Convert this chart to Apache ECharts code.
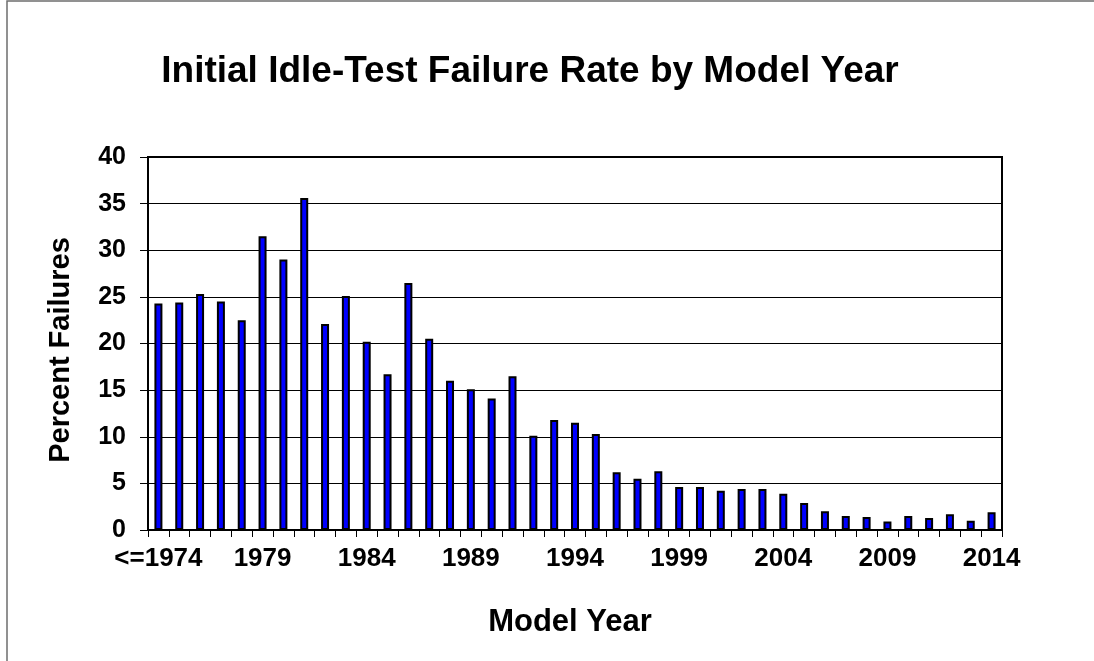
<!DOCTYPE html>
<html>
<head>
<meta charset="utf-8">
<title>Initial Idle-Test Failure Rate by Model Year</title>
<script src="https://cdn.jsdelivr.net/npm/echarts@6/dist/echarts.min.js"></script>
<style>
  html, body { margin: 0; padding: 0; background: #fff; }
  #chart { width: 1094px; height: 661px; }
</style>
</head>
<body>
<div id="chart"></div>
<script>
// model years (first bucket groups everything up to 1974)
const modelYears = [
  '<=1974', '1975', '1976', '1977', '1978', '1979', '1980', '1981', '1982', '1983',
  '1984', '1985', '1986', '1987', '1988', '1989', '1990', '1991', '1992', '1993',
  '1994', '1995', '1996', '1997', '1998', '1999', '2000', '2001', '2002', '2003',
  '2004', '2005', '2006', '2007', '2008', '2009', '2010', '2011', '2012', '2013',
  '2014'
]

// percent of vehicles failing the initial idle test
const failureRates = [
  24.3, 24.4, 25.3, 24.5, 22.5, 31.5, 29.0, 35.6, 22.1, 25.1,
  20.2, 16.7, 26.5, 20.5, 16.0, 15.1, 14.1, 16.5, 10.1, 11.8,
  11.5, 10.3, 6.2, 5.5, 6.3, 4.6, 4.6, 4.2, 4.4, 4.4,
  3.9, 2.9, 2.0, 1.5, 1.4, 0.9, 1.5, 1.3, 1.7, 1.0,
  1.9
]

const yTicks = { min: 0, max: 40, step: 5 }

const FONT = '"Liberation Sans", Arial, Helvetica, sans-serif'

const chart = echarts.init(document.getElementById('chart'), null, { renderer: 'canvas' })

chart.setOption({
  animation: false,
  backgroundColor: '#fff',
  grid: {
    left: 148,
    right: 92,
    top: 157,
    bottom: 131,
    show: true,
    borderColor: '#000',
    borderWidth: 2,
    backgroundColor: '#fff'
  },
  // outer chart frame, title and axis titles
  graphic: [
    {
      type: 'rect',
      shape: { x: 7, y: 1, width: 2000, height: 2000 },
      style: { fill: 'none', stroke: '#6e6e6e', lineWidth: 1.5 },
      silent: true
    },
    {
      type: 'text',
      x: 530,
      y: 72,
      style: {
        text: 'Initial Idle-Test Failure Rate by Model Year',
        font: 'bold 37px ' + FONT,
        fill: '#000',
        align: 'center',
        verticalAlign: 'middle'
      }
    },
    {
      type: 'text',
      x: 570,
      y: 622,
      style: {
        text: 'Model Year',
        font: 'bold 31px ' + FONT,
        fill: '#000',
        align: 'center',
        verticalAlign: 'middle'
      }
    },
    {
      type: 'text',
      x: 61,
      y: 350,
      rotation: Math.PI / 2,
      style: {
        text: 'Percent Failures',
        font: 'bold 29px ' + FONT,
        fill: '#000',
        align: 'center',
        verticalAlign: 'middle'
      }
    }
  ],
  xAxis: {
    type: 'category',
    data: modelYears,
    boundaryGap: true,
    axisLine: { lineStyle: { color: '#000', width: 2 } },
    axisTick: {
      show: true,
      interval: 0,
      length: 7,
      lineStyle: { color: '#000', width: 1 }
    },
    axisLabel: {
      interval: 4,
      margin: 16,
      color: '#000',
      fontFamily: FONT,
      fontWeight: 'bold',
      fontSize: 26
    },
    splitLine: { show: false }
  },
  yAxis: {
    type: 'value',
    min: yTicks.min,
    max: yTicks.max,
    interval: yTicks.step,
    axisLine: { show: true, lineStyle: { color: '#000', width: 2 } },
    axisTick: { show: true, length: 8, lineStyle: { color: '#000', width: 1 } },
    axisLabel: {
      margin: 22,
      color: '#000',
      fontFamily: FONT,
      fontWeight: 'bold',
      fontSize: 25
    },
    splitLine: { show: true, lineStyle: { color: '#000', width: 1 } }
  },
  series: [
    {
      type: 'bar',
      data: failureRates,
      barWidth: 8,
      itemStyle: {
        color: '#0000ff',
        borderColor: '#000',
        borderWidth: 2
      }
    }
  ]
})
</script>
</body>
</html>
